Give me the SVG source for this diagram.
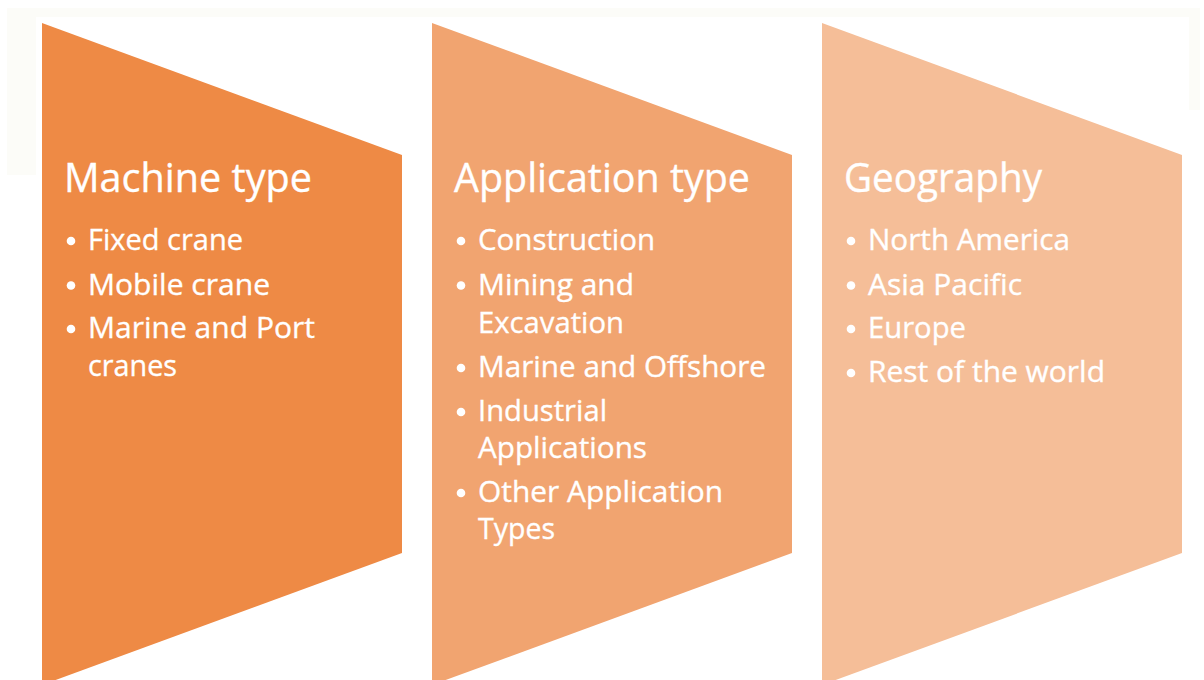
<svg xmlns="http://www.w3.org/2000/svg" width="1204" height="680" viewBox="0 0 1204 680">
  <defs>
    <style>
      .head { font-family: "Open Sans", "Noto Sans", sans-serif; font-size: 39.5px; fill: #ffffff; stroke: #ffffff; stroke-width: 0.35px; }
      .item { font-family: "Open Sans", "Noto Sans", sans-serif; font-size: 29.5px; fill: #ffffff; stroke: #ffffff; stroke-width: 0.35px; }
      .dot { fill: #ffffff; }
      .haze { fill: #fcfcf8; }
    </style>
  </defs>

  <!-- page background -->
  <rect x="0" y="0" width="1204" height="680" fill="#ffffff"/>
  <rect class="haze" x="7" y="8" width="1193" height="9"/>
  <rect class="haze" x="7" y="17" width="29" height="158"/>
  <rect class="haze" x="1189" y="17" width="11" height="93"/>

  <!-- segment 1 -->
  <g id="machine-type">
    <polygon points="42,23 402,155 402,553 42,685" fill="#ee8a45"/>
    <text class="head" x="64" y="192" textLength="248" lengthAdjust="spacingAndGlyphs">Machine type</text>
    <circle class="dot" cx="71" cy="241" r="4.3"/>
    <text class="item" x="88" y="250" textLength="155" lengthAdjust="spacingAndGlyphs">Fixed crane</text>
    <circle class="dot" cx="71" cy="285.5" r="4.3"/>
    <text class="item" x="88" y="294.5" textLength="182" lengthAdjust="spacingAndGlyphs">Mobile crane</text>
    <circle class="dot" cx="71" cy="329" r="4.3"/>
    <text class="item" x="88" y="338" textLength="227" lengthAdjust="spacingAndGlyphs">Marine and Port</text>
    <text class="item" x="88" y="375.5" textLength="89" lengthAdjust="spacingAndGlyphs">cranes</text>
  </g>

  <!-- segment 2 -->
  <g id="application-type">
    <polygon points="432,23 792,155 792,553 432,685" fill="#f1a470"/>
    <text class="head" x="454" y="192" textLength="296" lengthAdjust="spacingAndGlyphs">Application type</text>
    <circle class="dot" cx="461" cy="241" r="4.3"/>
    <text class="item" x="478" y="250" textLength="177" lengthAdjust="spacingAndGlyphs">Construction</text>
    <circle class="dot" cx="461" cy="285.5" r="4.3"/>
    <text class="item" x="478" y="294.5" textLength="156" lengthAdjust="spacingAndGlyphs">Mining and</text>
    <text class="item" x="478" y="332.5" textLength="146" lengthAdjust="spacingAndGlyphs">Excavation</text>
    <circle class="dot" cx="461" cy="368" r="4.3"/>
    <text class="item" x="478" y="377" textLength="288" lengthAdjust="spacingAndGlyphs">Marine and Offshore</text>
    <circle class="dot" cx="461" cy="412" r="4.3"/>
    <text class="item" x="478" y="421" textLength="129" lengthAdjust="spacingAndGlyphs">Industrial</text>
    <text class="item" x="478" y="458" textLength="169" lengthAdjust="spacingAndGlyphs">Applications</text>
    <circle class="dot" cx="461" cy="493" r="4.3"/>
    <text class="item" x="478" y="502" textLength="245" lengthAdjust="spacingAndGlyphs">Other Application</text>
    <text class="item" x="478" y="539" textLength="77" lengthAdjust="spacingAndGlyphs">Types</text>
  </g>

  <!-- segment 3 -->
  <g id="geography">
    <polygon points="822,23 1182,155 1182,553 822,685" fill="#f5be98"/>
    <text class="head" x="844" y="192" textLength="198" lengthAdjust="spacingAndGlyphs">Geography</text>
    <circle class="dot" cx="851" cy="241" r="4.3"/>
    <text class="item" x="868" y="250" textLength="202" lengthAdjust="spacingAndGlyphs">North America</text>
    <circle class="dot" cx="851" cy="285.5" r="4.3"/>
    <text class="item" x="868" y="294.5" textLength="154" lengthAdjust="spacingAndGlyphs">Asia Pacific</text>
    <circle class="dot" cx="851" cy="329" r="4.3"/>
    <text class="item" x="868" y="338" textLength="98" lengthAdjust="spacingAndGlyphs">Europe</text>
    <circle class="dot" cx="851" cy="373" r="4.3"/>
    <text class="item" x="868" y="382" textLength="237" lengthAdjust="spacingAndGlyphs">Rest of the world</text>
  </g>

  <!-- no connectors in this figure -->
  <g id="connectors"/>
</svg>
